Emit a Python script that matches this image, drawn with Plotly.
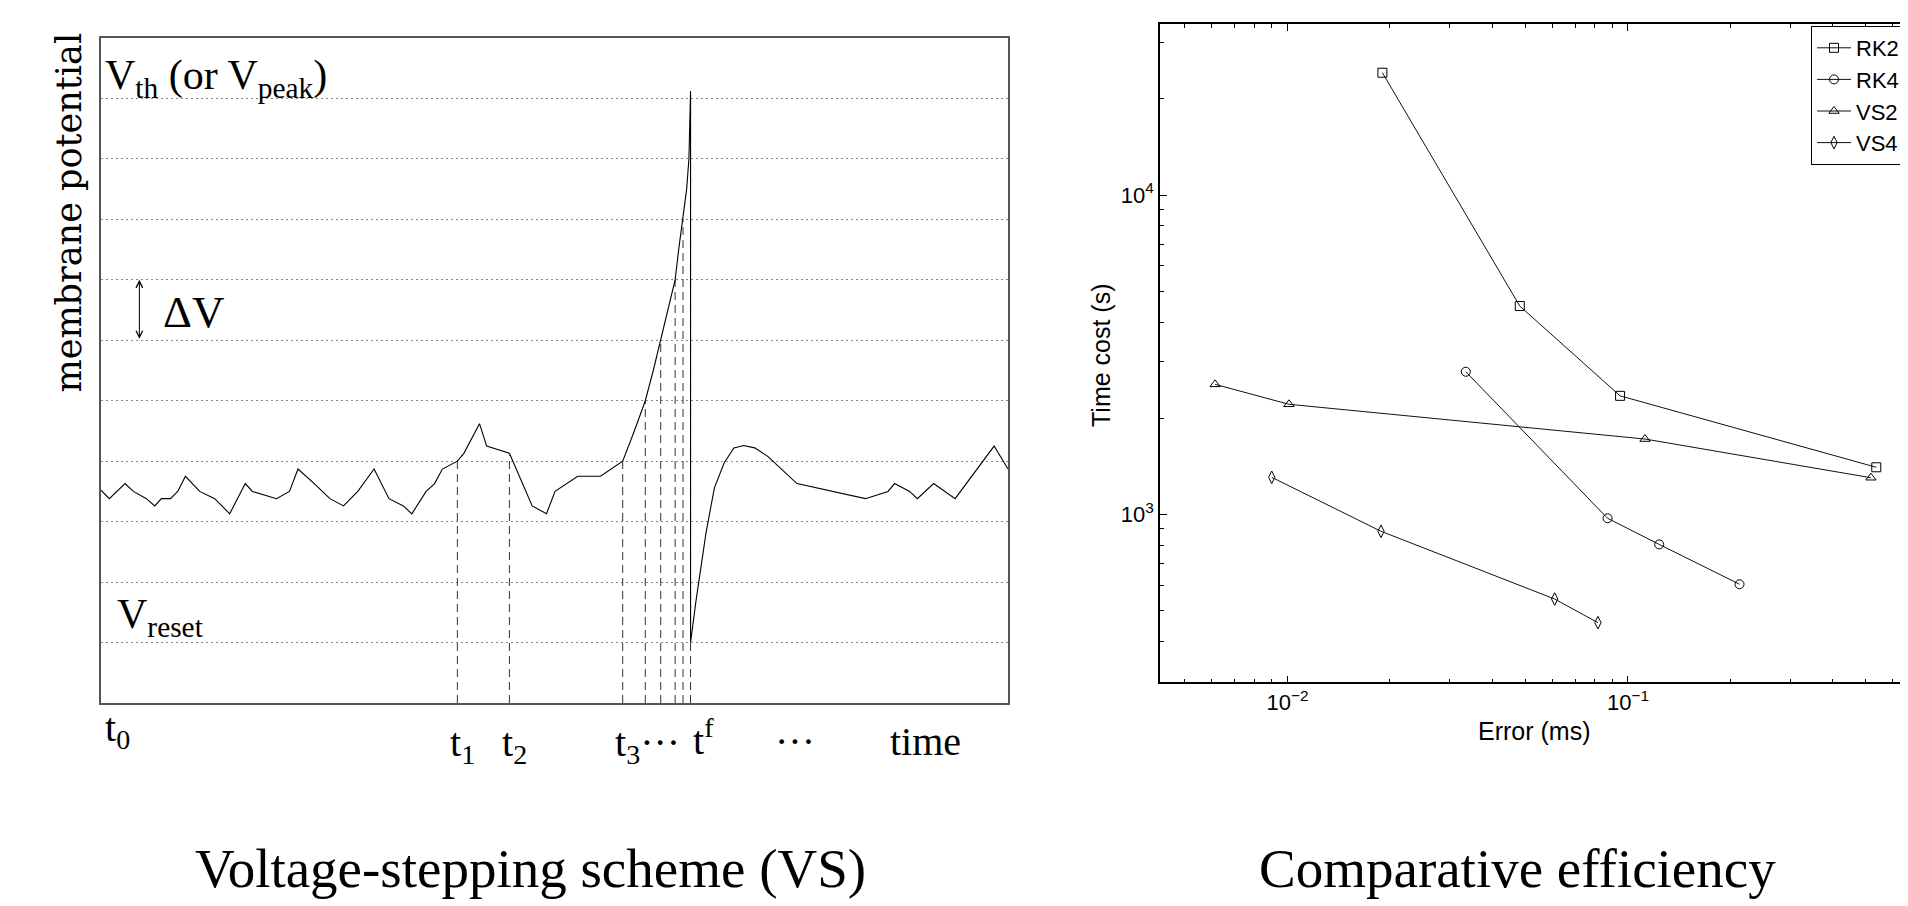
import plotly.graph_objects as go

# ---------------- Left panel: voltage-stepping schematic ----------------
trace_t = [0.0, 0.92, 2.65, 3.57, 5.0, 5.93, 6.66, 7.66, 8.46, 9.31, 10.88, 12.54, 14.19, 15.91,
           16.69, 19.35, 20.78, 21.72, 23.51, 25.24, 26.74, 28.31, 30.11, 31.75, 33.34, 34.27,
           35.85, 36.78, 37.64, 39.29, 40.01, 41.73, 42.52, 45.03, 47.54, 49.12, 50.06, 52.56,
           55.07, 57.52, 58.80, 60.01, 60.89, 61.71, 62.51, 63.3, 63.69, 64.17, 64.57, 64.82,
           64.93, 64.98, 65.0, 65.0, 65.62, 66.70, 67.63, 68.70, 69.78, 70.86, 72.07, 73.51,
           76.74, 84.27, 86.77, 87.50, 89.15, 90.01, 91.80, 94.17, 98.47, 100.0]
trace_v = [2.52, 2.38, 2.63, 2.50, 2.38, 2.26, 2.38, 2.38, 2.50, 2.75, 2.50, 2.38, 2.13, 2.63,
           2.50, 2.38, 2.50, 2.87, 2.63, 2.38, 2.26, 2.50, 2.87, 2.38, 2.26, 2.13,
           2.50, 2.63, 2.87, 3.0, 3.13, 3.62, 3.25, 3.13, 2.26, 2.13, 2.50, 2.75,
           2.75, 3.0, 3.5, 4.0, 4.5, 5.0, 5.5, 6.0, 6.5, 7.0, 7.5, 8.0,
           8.5, 9.0, 9.12, 0.0, 0.71, 1.81, 2.56, 2.97, 3.22, 3.26, 3.22, 3.08,
           2.63, 2.38, 2.50, 2.63, 2.50, 2.38, 2.63, 2.38, 3.25, 2.87]

# voltage levels (dotted lines) and event times (dashed lines)
voltage_levels = [0, 1, 2, 3, 4, 5, 6, 7, 8, 9]
step_times = [39.29, 45.03, 57.52, 60.01, 61.71, 63.3, 64.17, 65.0]
step_tops = [3.0, 3.1, 3.0, 4.0, 5.0, 6.0, 7.0, 9.12]
axis_bottom = -1.0

time_labels = ["t<sub>0</sub>", "t<sub>1</sub>", "t<sub>2</sub>", "t<sub>3</sub>···",
               "t<sup>f</sup>", "···", "time"]
time_label_x = [0.2, 38.3, 44.0, 56.5, 65.0, 74.1, 86.77]
time_label_py = [730, 745, 745, 745, 737, 741, 741]   # vertical centre in page pixels

# ---------------- Right panel: comparative efficiency ----------------
methods = ["RK2", "RK4", "VS2", "VS4"]
symbols = ["square-open", "circle-open", "triangle-up-open", "diamond-tall-open"]
error_ms = {
    "RK2": [0.0190, 0.0481, 0.0948, 0.536],
    "RK4": [0.0334, 0.0871, 0.1235, 0.2126],
    "VS2": [0.00613, 0.0101, 0.1122, 0.517],
    "VS4": [0.00899, 0.01882, 0.0609, 0.0816],
}
time_cost_s = {
    "RK2": [24150, 4490, 2350, 1404],
    "RK4": [2796, 972, 805, 604],
    "VS2": [2553, 2211, 1721, 1302],
    "VS4": [1306, 885, 543, 458],
}

W, H = 1908, 906
OFF = 8  # page body margin
SERIF = "Liberation Serif"
SANS = "Liberation Sans"


def px(x):
    return (x - OFF) / W


def py(y):
    return 1 - (y - OFF) / H


fig = go.Figure()

# dashed verticals
dx, dy = [], []
for t, top in zip(step_times, step_tops):
    dx += [t, t, None]
    dy += [axis_bottom, top, None]
fig.add_trace(go.Scatter(x=dx, y=dy, mode="lines", xaxis="x", yaxis="y",
                         line=dict(color="#333333", width=1, dash="8px,5px"),
                         showlegend=False, hoverinfo="skip"))
# membrane potential trace
fig.add_trace(go.Scatter(x=trace_t, y=trace_v, mode="lines", xaxis="x", yaxis="y",
                         line=dict(color="black", width=1.1), showlegend=False))

# right panel series
for m, s in zip(methods, symbols):
    fig.add_trace(go.Scatter(x=error_ms[m], y=time_cost_s[m], mode="lines+markers",
                             name=m, xaxis="x2", yaxis="y2",
                             line=dict(color="#111111", width=1),
                             marker=dict(symbol=s, size=9, color="black",
                                         line=dict(color="black", width=1))))

ann = []
# left panel texts
ann.append(dict(x=0.2, y=9.33, xref="x", yref="y", xanchor="left", yanchor="middle",
                text="V<sub>th</sub> (or V<sub>peak</sub>)", showarrow=False,
                font=dict(family=SERIF, size=42, color="black")))
ann.append(dict(x=4.23, y=6.0, ax=4.23, ay=5.0, xref="x", yref="y", axref="x", ayref="y",
                text="", showarrow=True, arrowside="end+start", arrowhead=5,
                arrowsize=1.3, arrowwidth=1, arrowcolor="black"))
ann.append(dict(x=10.17, y=5.46, xref="x", yref="y", xanchor="center", yanchor="middle",
                text="ΔV", showarrow=False, font=dict(family=SERIF, size=45, color="black")))
ann.append(dict(x=1.5, y=0.42, xref="x", yref="y", xanchor="left", yanchor="middle",
                text="V<sub>reset</sub>", showarrow=False,
                font=dict(family=SERIF, size=42, color="black")))
for lab, lx, lpy in zip(time_labels, time_label_x, time_label_py):
    ann.append(dict(x=lx, y=py(lpy), xref="x", yref="paper", xanchor="left", yanchor="middle",
                    text=lab, showarrow=False, font=dict(family=SERIF, size=40, color="black")))
ann.append(dict(x=px(68.5), y=py(213), xref="paper", yref="paper", text="membrane potential",
                textangle=-90, showarrow=False, xanchor="center", yanchor="middle",
                font=dict(family="DejaVu Serif", size=35, color="black")))
# panel titles
ann.append(dict(x=px(530), y=py(868), xref="paper", yref="paper",
                text="Voltage-stepping scheme (VS)", showarrow=False,
                xanchor="center", yanchor="middle", font=dict(family=SERIF, size=55, color="black")))
ann.append(dict(x=px(1517.6), y=py(868), xref="paper", yref="paper",
                text="Comparative efficiency", showarrow=False,
                xanchor="center", yanchor="middle", font=dict(family=SERIF, size=55, color="black")))
# right panel axis titles
ann.append(dict(x=px(1101), y=py(355), xref="paper", yref="paper", text="Time cost (s)",
                textangle=-90, showarrow=False, xanchor="center", yanchor="middle",
                font=dict(family=SANS, size=25, color="black")))
ann.append(dict(x=px(1534), y=py(731), xref="paper", yref="paper", text="Error (ms)",
                showarrow=False, xanchor="center", yanchor="middle",
                font=dict(family=SANS, size=25, color="black")))

fig.update_layout(
    width=W, height=H, autosize=False,
    margin=dict(l=0, r=0, t=0, b=0),
    paper_bgcolor="white", plot_bgcolor="white",
    annotations=ann,
    xaxis=dict(domain=[px(101), px(1008)], range=[0, 100], showline=True, mirror=True,
               linecolor="#555555", linewidth=1.5, showgrid=False, zeroline=False,
               showticklabels=False, ticks="", fixedrange=True),
    yaxis=dict(domain=[py(703), py(38)], range=[-1, 10], tickmode="array",
               tickvals=voltage_levels, showgrid=True, gridcolor="#888888", gridwidth=1,
               griddash="1.5px,3.5px", showline=True, mirror=True, linecolor="#555555",
               linewidth=1.5, zeroline=False, showticklabels=False, ticks="", fixedrange=True),
    xaxis2=dict(domain=[px(1160), px(1907)], anchor="y2", type="log", range=[-2.3744, -0.1806],
                tickmode="array", tickvals=[0.01, 0.1],
                ticktext=["10<sup>−2</sup>", "10<sup>−1</sup>"],
                ticks="inside", ticklen=7, tickwidth=1, tickcolor="black",
                minor=dict(ticks="inside", ticklen=4, tickwidth=1, tickcolor="black",
                           dtick="D1", showgrid=False),
                showline=True, mirror="ticks", linecolor="black", linewidth=1.5,
                showgrid=False, zeroline=False,
                tickfont=dict(family=SANS, size=22, color="black")),
    yaxis2=dict(domain=[py(682.3), py(24)], anchor="x2", type="log", range=[2.474, 4.5355],
                tickmode="array", tickvals=[1000, 10000],
                ticktext=["10<sup>3</sup>", "10<sup>4</sup>"],
                ticks="inside", ticklen=7, tickwidth=1, tickcolor="black",
                minor=dict(ticks="inside", ticklen=4, tickwidth=1, tickcolor="black",
                           dtick="D1", showgrid=False),
                showline=True, mirror="ticks", linecolor="black", linewidth=1.5,
                showgrid=False, zeroline=False,
                tickfont=dict(family=SANS, size=22, color="black")),
    legend=dict(x=px(1905), y=py(26), xanchor="right", yanchor="top",
                bordercolor="black", borderwidth=1, bgcolor="white",
                font=dict(family=SANS, size=22, color="black"), tracegroupgap=0,
                itemwidth=34),
)

fig.write_html("out.html")
